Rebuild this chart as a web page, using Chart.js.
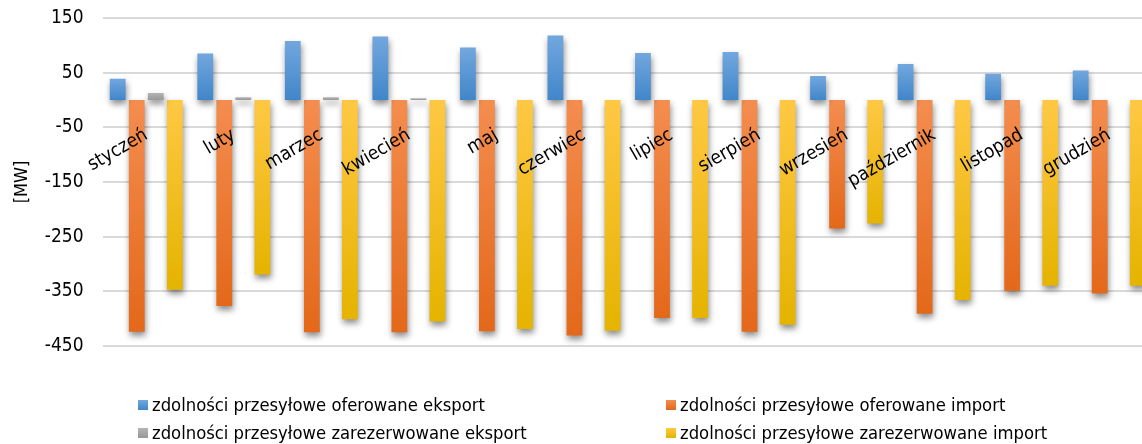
<!DOCTYPE html>
<html>
<head>
<meta charset="utf-8">
<script src="https://cdn.jsdelivr.net/npm/chart.js@4.4.1/dist/chart.umd.min.js"></script>
<style>
  html, body { margin: 0; padding: 0; background: #fff; overflow: hidden; }
  #wrap { position: relative; width: 1142px; height: 444px; overflow: hidden; }
  #chart { position: absolute; left: 0; top: 0; }
  #legend { position: absolute; left: 0; top: 0; width: 1142px; height: 444px; pointer-events: none; }
  .item { position: absolute; font: 18.3px 'DejaVu Sans Condensed', 'DejaVu Sans', sans-serif; color: #000; white-space: nowrap; line-height: 20px; }
  .box { position: absolute; left: 0; top: 5px; width: 10px; height: 10px; }
  .item span { position: absolute; left: 14px; top: 0; }
</style>
</head>
<body>
<div id="wrap">
  <canvas id="chart" width="1160" height="362"></canvas>
  <div id="legend"></div>
</div>
<script>
const months = ['styczeń', 'luty', 'marzec', 'kwiecień', 'maj', 'czerwiec', 'lipiec',
  'sierpień', 'wrzesień', 'październik', 'listopad', 'grudzień']

const exportOffered = [39, 85, 108, 116, 96, 118, 86, 88, 44, 66, 48, 54]
const importOffered = [-424, -377, -425, -425, -423, -431, -399, -424, -235, -391, -349, -354]
const exportReserved = [13, 5, 5, 3, 0, 0, 0, 0, 0, 0, 0, 0]
const importReserved = [-347, -319, -401, -405, -419, -422, -399, -411, -226, -366, -340, -340]

const yTicks = [150, 50, -50, -150, -250, -350, -450]

const fontFamily = "'DejaVu Sans Condensed', 'DejaVu Sans', sans-serif"

// light end / dark end of each fill
const series = [
  { label: 'zdolności przesyłowe oferowane eksport', data: exportOffered, light: '#72a7de', dark: '#4186ca' },
  { label: 'zdolności przesyłowe oferowane import', data: importOffered, light: '#f48d4f', dark: '#e3681a' },
  { label: 'zdolności przesyłowe zarezerwowane eksport', data: exportReserved, light: '#b4b4b4', dark: '#989898' },
  { label: 'zdolności przesyłowe zarezerwowane import', data: importReserved, light: '#ffc844', dark: '#e5b300' }
]

function barFill(s) {
  return function(ctx) {
    const chart = ctx.chart
    const y = chart.scales.y
    if (!chart.chartArea || !y || ctx.parsed === undefined) return s.dark
    const v = ctx.parsed.y
    const p0 = y.getPixelForValue(0)
    const p1 = y.getPixelForValue(v)
    if (Math.abs(p1 - p0) < 1) return s.dark
    const g = chart.ctx.createLinearGradient(0, Math.min(p0, p1), 0, Math.max(p0, p1))
    g.addColorStop(0, s.light)
    g.addColorStop(1, s.dark)
    return g
  }
}

// soft drop shadow under the bars
const barShadow = {
  id: 'barShadow',
  beforeDatasetsDraw(chart) {
    const c = chart.ctx
    c.save()
    c.shadowColor = 'rgba(0,0,0,0.45)'
    c.shadowBlur = 6
    c.shadowOffsetX = 1
    c.shadowOffsetY = 4
  },
  afterDatasetsDraw(chart) {
    chart.ctx.restore()
  }
}

const chart = new Chart(document.getElementById('chart'), {
  type: 'bar',
  data: {
    labels: months,
    datasets: series.map(s => ({
      label: s.label,
      data: s.data,
      backgroundColor: barFill(s),
      borderWidth: 0,
      categoryPercentage: 0.87,
      barPercentage: 0.83
    }))
  },
  options: {
    responsive: false,
    animation: false,
    layout: { padding: { top: 18, bottom: 16, left: 0, right: 7 } },
    plugins: {
      legend: { display: false },
      tooltip: { enabled: false }
    },
    scales: {
      x: {
        position: { y: 0 },
        afterFit(scale) { scale.height = 0 },
        grid: { display: false },
        border: { display: false },
        ticks: {
          z: 1,
          minRotation: 30,
          maxRotation: 30,
          autoSkip: false,
          padding: 16,
          color: '#000',
          font: { family: fontFamily, size: 19 }
        }
      },
      y: {
        min: -450,
        max: 150,
        // fixed axis width; the layout padding already leaves room for the end labels
        afterFit(scale) {
          scale.width = 102.5
          scale.paddingTop = 0
          scale.paddingBottom = 0
        },
        afterBuildTicks(scale) { scale.ticks = yTicks.map(v => ({ value: v })) },
        grid: { color: '#d9d9d9', lineWidth: 2, drawTicks: false },
        border: { display: false },
        ticks: {
          padding: 19,
          color: '#000',
          font: { family: fontFamily, size: 19 }
        },
        title: {
          display: true,
          text: '[MW]',
          color: '#000',
          padding: { top: 12, bottom: 0 },
          font: { family: fontFamily, size: 18 }
        }
      }
    }
  },
  plugins: [barShadow]
})

// two-column legend under the plot
const legendPos = [[138, 395], [666, 395], [138, 423], [666, 423]]
const legend = document.getElementById('legend')
chart.data.datasets.forEach((ds, i) => {
  const s = series[i]
  const item = document.createElement('div')
  item.className = 'item'
  item.style.left = legendPos[i][0] + 'px'
  item.style.top = legendPos[i][1] + 'px'
  const box = document.createElement('div')
  box.className = 'box'
  box.style.background = 'linear-gradient(' + s.light + ', ' + s.dark + ')'
  const text = document.createElement('span')
  text.textContent = ds.label
  item.appendChild(box)
  item.appendChild(text)
  legend.appendChild(item)
})
</script>
</body>
</html>
